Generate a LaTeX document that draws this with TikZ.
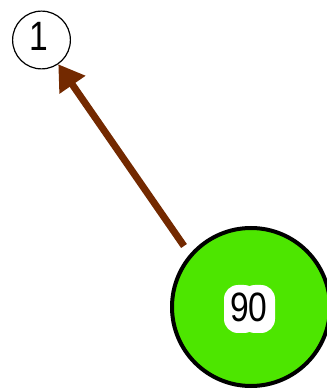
\documentclass[tikz,border=0pt]{standalone}
\usepackage{fontspec}
\setmainfont{Liberation Sans}
\usetikzlibrary{arrows.meta}
\definecolor{nodegreen}{RGB}{77,230,0}
\definecolor{arrowbrown}{RGB}{115,41,0}
\begin{document}
\begin{tikzpicture}[x=1pt,y=1pt]
\useasboundingbox (0,0) rectangle (327,389);
\tikzset{
  smallnode/.style={circle,draw=black,line width=1.2pt,minimum size=57.8pt,inner sep=0pt},
  bignode/.style={circle,draw=black,fill=nodegreen,line width=4pt,minimum size=158pt,inner sep=0pt},
  digits/.style={font=\fontsize{41}{41}\selectfont,inner sep=0pt},
  halo/.style={fill=white,rounded corners=14pt},
  link/.style={draw=arrowbrown,line width=7pt,-{Triangle[length=25pt,width=30pt]}}
}
\node[smallnode] (small) at (41.5,349) {};
\node[bignode] (big) at (251,82) {};
\fill[halo] (224,56) rectangle (258,104);
\fill[halo] (241,56) rectangle (275,104);
\node[digits] (t1) at (39,352.5) {\scalebox{0.82}[1]{1}};
\node[digits] (t90) at (249,81.5) {\scalebox{0.82}[1]{90}};
\coordinate (tail) at (184,143);
\draw[link] (tail) -- (small);
\end{tikzpicture}
\end{document}
